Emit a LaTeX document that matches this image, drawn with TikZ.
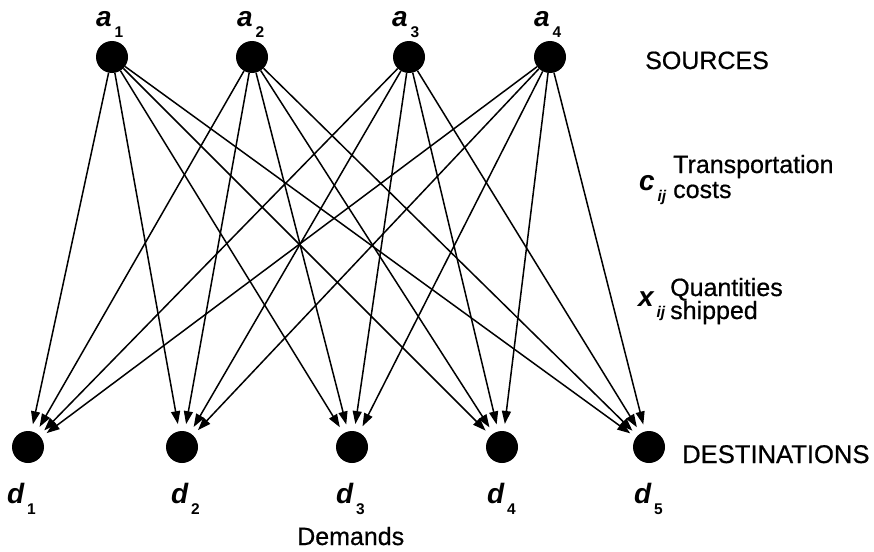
\documentclass[tikz,border=0pt]{standalone}
\usepackage{fontspec}
\setmainfont{Liberation Sans}
\newfontfamily\wordfont[FakeBold=0.6]{Liberation Sans}
\usetikzlibrary{arrows.meta}

% variable with a lowered subscript, e.g. a_1, d_3, c_ij
\newcommand\varsub[3][\bfseries]{{\fontsize{28}{28}\selectfont\bfseries\itshape #2}\kern-1.5pt\raisebox{-11pt}{\fontsize{15.5}{15.5}\selectfont#1 #3}}

\begin{document}
\begin{tikzpicture}[x=1pt,y=-1pt,
  dot/.style={circle,fill=black,draw=none,minimum size=32pt,inner sep=0pt},
  arr/.style={-{Triangle[length=13pt,width=9pt]},line width=1.5pt,shorten >=7pt},
  lab/.style={inner sep=0pt,anchor=base west},
  word/.style={inner sep=0pt,anchor=base west,font=\wordfont\fontsize{25}{25}\selectfont}]
\useasboundingbox (0,0) rectangle (874,551);

% sources
\node[dot] (a1) at (112,57) {};
\node[dot] (a2) at (252,57) {};
\node[dot] (a3) at (409,57) {};
\node[dot] (a4) at (550,57) {};

% destinations
\node[dot] (d1) at (28,447) {};
\node[dot] (d2) at (182,447) {};
\node[dot] (d3) at (352,447) {};
\node[dot] (d4) at (502,447) {};
\node[dot] (d5) at (649,447) {};

% every source ships to every destination
\foreach \i in {1,...,4}
  \foreach \j in {1,...,5}
    \draw[arr] (a\i) -- (d\j);

% source labels
\node[lab] (la1) at (96,27)  {\varsub{a}{1}};
\node[lab] (la2) at (237,27) {\varsub{a}{2}};
\node[lab] (la3) at (392,27) {\varsub{a}{3}};
\node[lab] (la4) at (534,27) {\varsub{a}{4}};

% destination labels
\node[lab] (ld1) at (7,503)   {\varsub{d}{1}};
\node[lab] (ld2) at (171,503) {\varsub{d}{2}};
\node[lab] (ld3) at (336,503) {\varsub{d}{3}};
\node[lab] (ld4) at (487,503) {\varsub{d}{4}};
\node[lab] (ld5) at (634,503) {\varsub{d}{5}};

% side annotations
\node[word] (src) at (645,69) {SOURCES};
\node[word,font=\wordfont\fontsize{25.6}{25.6}\selectfont] (dst) at (682,463) {DESTINATIONS};
\node[word] (dem) at (297,545) {Demands};

\node[lab] (cij) at (639,190) {\varsub[\bfseries\itshape]{c}{ij}};
\node[word] (tc1) at (673,173) {Transportation};
\node[word] (tc2) at (673,198) {costs};

\node[lab] (xij) at (638,306) {\varsub[\bfseries\itshape]{x}{ij}};
\node[word] (qs1) at (670,296) {Quantities};
\node[word] (qs2) at (670,319) {shipped};
\end{tikzpicture}
\end{document}
